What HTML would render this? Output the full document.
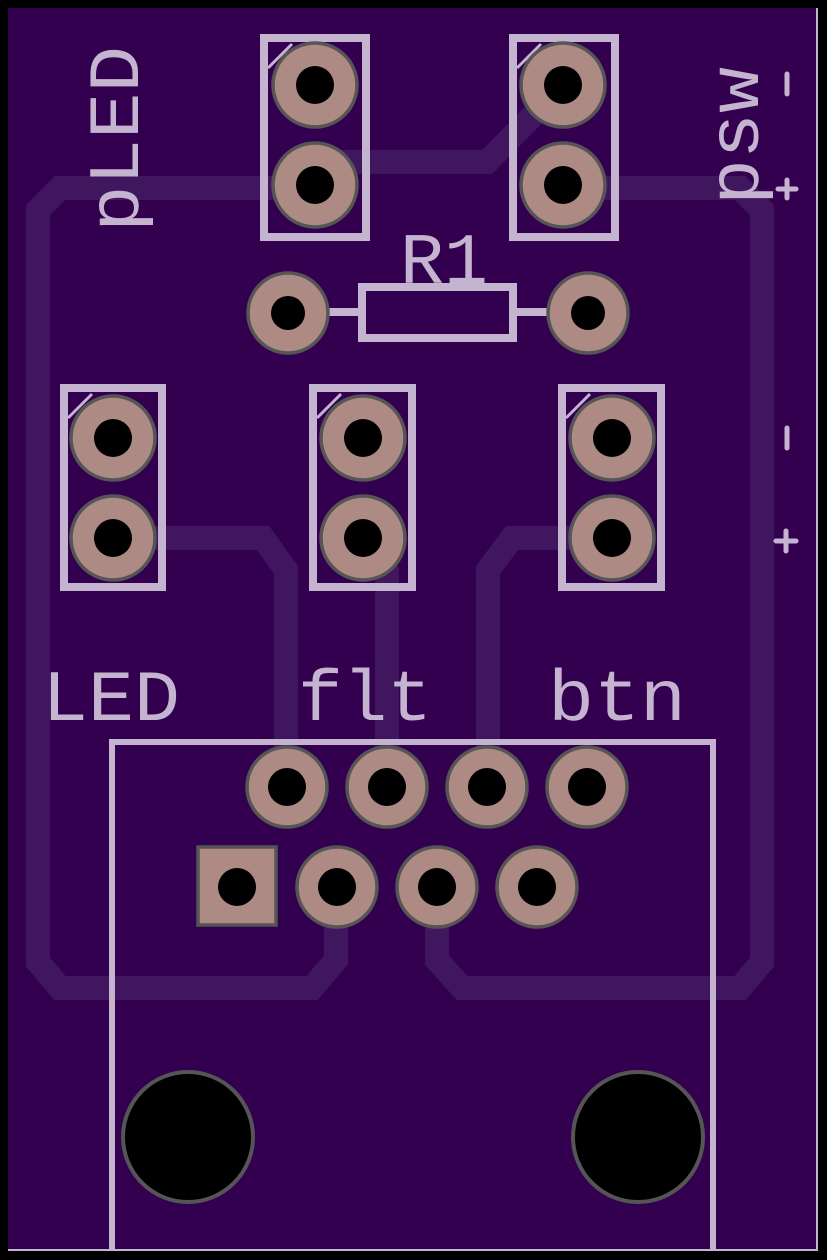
<!DOCTYPE html>
<html><head><meta charset="utf-8"><style>html,body{margin:0;padding:0;background:#000}svg{display:block}</style></head>
<body>
<svg width="827" height="1260" viewBox="0 0 827 1260" xmlns="http://www.w3.org/2000/svg">
<rect x="0" y="0" width="827" height="1260" fill="#000"/>
<rect x="8" y="8" width="810" height="1243" fill="#330050"/>
<line x1="817" y1="8" x2="817" y2="1251" stroke="#c4b4d0" stroke-width="2"/>
<line x1="8" y1="1250" x2="818" y2="1250" stroke="#c4b4d0" stroke-width="2"/>
<g fill="none" stroke="#40175f" stroke-width="24" stroke-linejoin="miter">
<path d="M315,188 L60,188 L38,210 L38,962 L60,988 L312,988 L336,960 L336,885"/>
<path d="M563,188 L740,188 L762,210 L762,962 L740,988 L462,988 L437,960 L437,885"/>
<path d="M335,162 L487,162 L563,85"/>
<path d="M113,538 L263,538 L286,570 L286,785"/>
<path d="M363,540 L387,572 L387,785"/>
<path d="M612,538 L512,538 L488,570 L488,785"/>
</g>
<g fill="none" stroke="#c4b4d0" stroke-width="8">
<rect x="264" y="38" width="102" height="199"/>
<rect x="513" y="38" width="102" height="199"/>
<rect x="64" y="388" width="98" height="199"/>
<rect x="313" y="388" width="99" height="199"/>
<rect x="562" y="388" width="99" height="199"/>
<rect x="362" y="287" width="151" height="51"/>
<line x1="268" y1="68" x2="292" y2="44" stroke-width="3"/>
<line x1="517" y1="68" x2="541" y2="44" stroke-width="3"/>
<line x1="68" y1="418" x2="92" y2="394" stroke-width="3"/>
<line x1="317" y1="418" x2="341" y2="394" stroke-width="3"/>
<line x1="566" y1="418" x2="590" y2="394" stroke-width="3"/>
<line x1="328" y1="312" x2="362" y2="312"/>
<line x1="513" y1="312" x2="547" y2="312"/>
</g>
<path d="M112,1251 L112,742 L713,742 L713,1251" fill="none" stroke="#c4b4d0" stroke-width="6"/>
<g fill="#ae8a84" stroke="#555" stroke-width="3.5">
<circle cx="315" cy="85" r="42"/><circle cx="315" cy="185" r="42"/>
<circle cx="563" cy="85" r="42"/><circle cx="563" cy="185" r="42"/>
<circle cx="288" cy="313" r="40"/><circle cx="588" cy="313" r="40"/>
<circle cx="113" cy="438" r="42"/><circle cx="113" cy="538" r="42"/>
<circle cx="363" cy="438" r="42"/><circle cx="363" cy="538" r="42"/>
<circle cx="612" cy="438" r="42"/><circle cx="612" cy="538" r="42"/>
<circle cx="287" cy="787" r="40"/><circle cx="387" cy="787" r="40"/>
<circle cx="487" cy="787" r="40"/><circle cx="587" cy="787" r="40"/>
<rect x="198" y="847" width="78" height="78"/>
<circle cx="337" cy="887" r="40"/><circle cx="437" cy="887" r="40"/><circle cx="537" cy="887" r="40"/>
</g>
<g fill="#000">
<circle cx="315" cy="85" r="19"/><circle cx="315" cy="185" r="19"/>
<circle cx="563" cy="85" r="19"/><circle cx="563" cy="185" r="19"/>
<circle cx="288" cy="313" r="17"/><circle cx="588" cy="313" r="17"/>
<circle cx="113" cy="438" r="19"/><circle cx="113" cy="538" r="19"/>
<circle cx="363" cy="438" r="19"/><circle cx="363" cy="538" r="19"/>
<circle cx="612" cy="438" r="19"/><circle cx="612" cy="538" r="19"/>
<circle cx="287" cy="787" r="19"/><circle cx="387" cy="787" r="19"/>
<circle cx="487" cy="787" r="19"/><circle cx="587" cy="787" r="19"/>
<circle cx="237" cy="887" r="19"/><circle cx="337" cy="887" r="19"/><circle cx="437" cy="887" r="19"/><circle cx="537" cy="887" r="19"/>
</g>
<g fill="#000" stroke="#555" stroke-width="4">
<circle cx="188" cy="1137" r="65"/><circle cx="638" cy="1137" r="65"/>
</g>
<g fill="#c4b4d0" font-family="Liberation Mono, monospace">
<text x="42" y="720" font-size="72" textLength="138" lengthAdjust="spacingAndGlyphs">LED</text>
<text x="298" y="720" font-size="72" textLength="134" lengthAdjust="spacingAndGlyphs">flt</text>
<text x="548" y="720" font-size="72" textLength="138" lengthAdjust="spacingAndGlyphs">btn</text>
<text x="400" y="283" font-size="72" textLength="88" lengthAdjust="spacingAndGlyphs">R1</text>
<text transform="translate(138,232) rotate(-90)" font-size="72" textLength="186" lengthAdjust="spacingAndGlyphs">pLED</text>
<text transform="translate(758,205) rotate(-90)" font-size="72" textLength="138" lengthAdjust="spacingAndGlyphs">psw</text>
</g>
<g stroke="#c4b4d0" stroke-width="5" stroke-linecap="round">
<line x1="787" y1="74" x2="787" y2="94"/>
<line x1="787" y1="180" x2="787" y2="198"/><line x1="778" y1="189" x2="796" y2="189"/>
<line x1="787" y1="428" x2="787" y2="448"/>
<line x1="786" y1="531" x2="786" y2="551"/><line x1="776" y1="541" x2="796" y2="541"/>
</g>
</svg>
</body></html>
